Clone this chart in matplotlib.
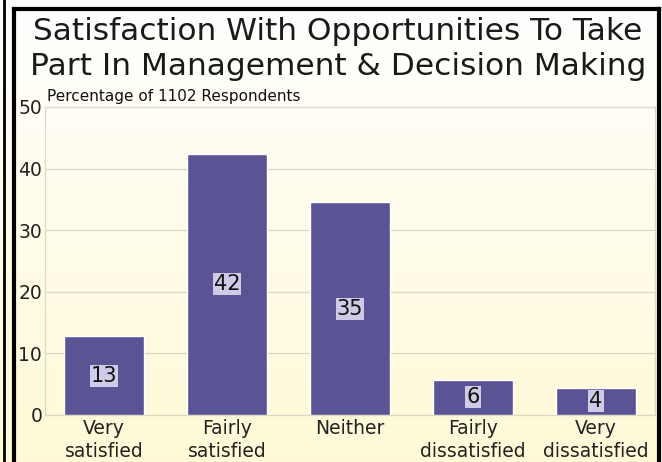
import numpy as np
import matplotlib.pyplot as plt
from matplotlib.lines import Line2D

# data
categories = ['Very\nsatisfied', 'Fairly\nsatisfied', 'Neither',
              'Fairly\ndissatisfied', 'Very\ndissatisfied']
values = [12.8, 42.4, 34.5, 5.7, 4.4]
labels = ['13', '42', '35', '6', '4']
yticks = [0, 10, 20, 30, 40, 50]

W, H = 662, 462
fig = plt.figure(figsize=(W / 100, H / 100), dpi=100)

# background gradient: white at top -> pale yellow at bottom
bg = fig.add_axes([0, 0, 1, 1], zorder=-10)
grad = np.linspace(0, 1, 256).reshape(-1, 1)
top = np.array([1.0, 1.0, 1.0])
bot = np.array([1.0, 0.98, 0.84])
img = top + (bot - top) * grad[..., None]
bg.imshow(np.repeat(img, 2, axis=1), aspect='auto', extent=[0, 1, 0, 1])
bg.set_axis_off()

# black frame lines of the outer panel
fig.add_artist(Line2D([13.5 / W, 13.5 / W], [0, 1 - 9 / H], color='black', lw=3))
fig.add_artist(Line2D([13.5 / W, 658.5 / W], [1 - 9 / H, 1 - 9 / H], color='black', lw=3))
fig.add_artist(Line2D([658.5 / W, 658.5 / W], [0, 1 - 9 / H], color='black', lw=3))
fig.add_artist(Line2D([4 / W, 4 / W], [0, 1], color='black', lw=2))

ax = fig.add_axes([45 / W, 1 - 415 / H, 610 / W, 308 / H])
ax.patch.set_alpha(0)

x = np.arange(len(categories))
ax.bar(x, values, width=0.65, color='#5b5494', edgecolor='white', linewidth=1, zorder=3)
for xi, v, lab in zip(x, values, labels):
    ax.text(xi, v / 2, lab, ha='center', va='center', fontsize=15, color='#111111',
            bbox=dict(boxstyle='square,pad=0.05', facecolor='#cfcbe6', edgecolor='none'),
            zorder=4)

ax.set_xlim(-0.48, 4.48)
ax.set_ylim(0, 50)
ax.set_yticks(yticks)
ax.set_xticks(x)
ax.set_xticklabels(categories, fontsize=13.5, color='#222222', linespacing=1.25)
ax.tick_params(axis='y', labelsize=13.5, labelcolor='#222222', length=0, pad=2)
ax.tick_params(axis='x', length=0, pad=3)
ax.yaxis.grid(True, color='#dcd8c4', linewidth=0.9, zorder=0)
for s in ax.spines.values():
    s.set_color('#dcd8c4')
    s.set_linewidth(0.9)

fig.text(338 / W, 1 - 49 / H, 'Satisfaction With Opportunities To Take\nPart In Management & Decision Making',
         ha='center', va='center', fontsize=22.5, color='#1a1a1a', linespacing=1.25)
fig.text(47 / W, 1 - 96 / H, 'Percentage of 1102 Respondents', ha='left', va='center',
         fontsize=11, color='#111111')

fig.savefig('out.png', dpi=100)
